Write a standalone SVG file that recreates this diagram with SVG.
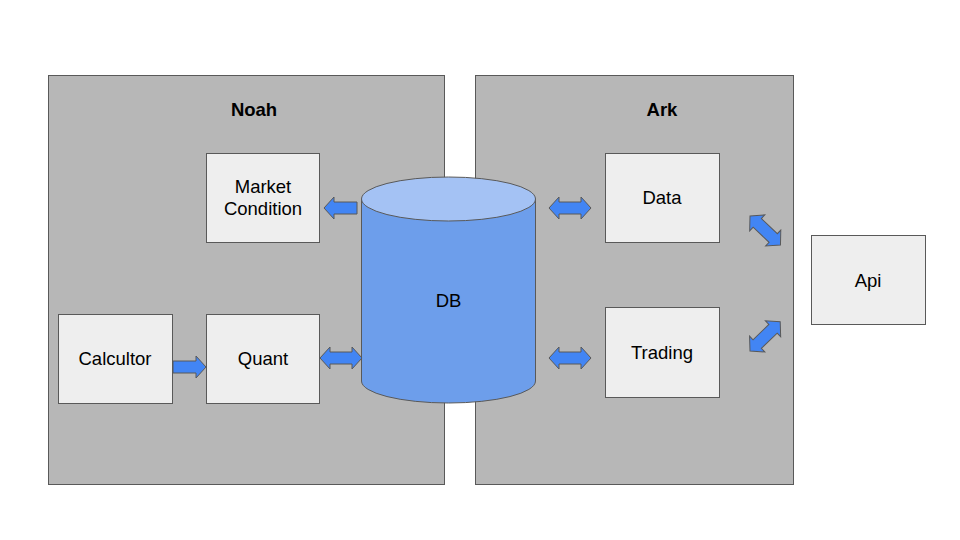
<svg xmlns="http://www.w3.org/2000/svg" xmlns:xlink="http://www.w3.org/1999/xlink" width="960" height="540" viewBox="0 0 960 540">
<style>
.grp{fill:#b7b7b7;stroke:#595959;stroke-width:1}
.box{fill:#eeeeee;stroke:#595959;stroke-width:1}
.arr{fill:#4285f4;stroke:#595959;stroke-width:1;stroke-linejoin:miter}
text{font-family:"Liberation Sans",Arial,sans-serif;fill:#000;text-anchor:middle}
.t{font-size:18.5px}
.h{font-size:18.5px;font-weight:bold}
</style>
<defs>
<path id="dbl" d="M0,0 L10,-11 L10,-6 L32,-6 L32,-11 L42,0 L32,11 L32,6 L10,6 L10,11 Z"/>
<path id="sgl" d="M0,0 L10,-11 L10,-6 L33,-6 L33,6 L10,6 L10,11 Z"/>
</defs>
<rect width="960" height="540" fill="#ffffff"/>
<g id="noah"><rect class="grp" x="48.5" y="75.5" width="396" height="409"/><text class="h" x="254" y="116">Noah</text></g>
<g id="ark"><rect class="grp" x="475.5" y="75.5" width="318" height="409"/><text class="h" x="662" y="116">Ark</text></g>
<g id="market"><rect class="box" x="206.5" y="153.5" width="113" height="89"/><text class="t" x="263" y="193">Market</text><text class="t" x="263" y="215">Condition</text></g>
<g id="calcultor"><rect class="box" x="58.5" y="314.5" width="114" height="89"/><text class="t" x="115" y="365">Calcultor</text></g>
<g id="quant"><rect class="box" x="206.5" y="314.5" width="113" height="89"/><text class="t" x="263" y="365">Quant</text></g>
<g id="db">
<path d="M361.5,199 L361.5,381 A87,22 0 0 0 535.5,381 L535.5,199 Z" fill="#6d9eeb" stroke="#595959"/>
<ellipse cx="448.5" cy="199" rx="87" ry="22" fill="#a4c2f4" stroke="#595959"/>
<text class="t" x="448.5" y="307">DB</text>
</g>
<g id="data"><rect class="box" x="605.5" y="153.5" width="114" height="89"/><text class="t" x="662" y="204">Data</text></g>
<g id="trading"><rect class="box" x="605.5" y="307.5" width="114" height="90"/><text class="t" x="662" y="359">Trading</text></g>
<g id="api"><rect class="box" x="811.5" y="235.5" width="114" height="89"/><text class="t" x="868" y="287">Api</text></g>
<g id="connectors">
<use xlink:href="#sgl" class="arr" transform="translate(324,208)"/>
<use xlink:href="#sgl" class="arr" transform="translate(206,367) rotate(180)"/>
<use xlink:href="#dbl" class="arr" transform="translate(320,358)"/>
<use xlink:href="#dbl" class="arr" transform="translate(549,208)"/>
<use xlink:href="#dbl" class="arr" transform="translate(549,358)"/>
<use xlink:href="#dbl" class="arr" transform="translate(750,216) rotate(43.5)"/>
<use xlink:href="#dbl" class="arr" transform="translate(750,351) rotate(-44)"/>
</g>
</svg>
